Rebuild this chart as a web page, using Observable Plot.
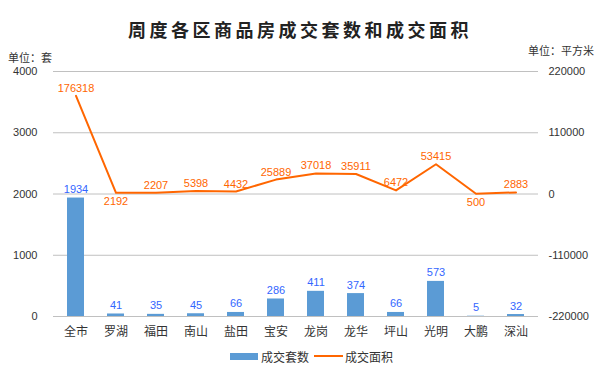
<!DOCTYPE html>
<html>
<head>
<meta charset="utf-8">
<script src="https://cdn.jsdelivr.net/npm/d3@7"></script>
<script src="https://cdn.jsdelivr.net/npm/@observablehq/plot@0.6"></script>
<style>
  html, body { margin: 0; padding: 0; background: #fff; }
  #wrap { position: relative; width: 600px; height: 371px; overflow: hidden; font-family: "Noto Sans CJK SC", sans-serif; }
  #wrap svg { position: absolute; left: 0; top: 0; }
  .ov { position: absolute; white-space: nowrap; color: #333; }
  #title { left: 0; width: 600px; top: 16px; text-align: center; font-size: 18px; font-weight: bold; letter-spacing: 3.5px; color: #222; }
  #uL { left: 8px; top: 51px; font-size: 11px; line-height: 12px; }
  #uR { right: 6px; top: 44px; font-size: 11px; line-height: 12px; }
  #legend { left: 230px; top: 348px; font-size: 12px; display: flex; align-items: center; color: #333; }
  .sw { display: inline-block; width: 28px; height: 7px; background: #5B9BD5; margin-right: 3px; }
  .ln { display: inline-block; width: 29px; height: 2px; background: #FF6600; margin: 0 2px 2px 5px; }
</style>
</head>
<body>
<div id="wrap">
  <div id="title" class="ov">周度各区商品房成交套数和成交面积</div>
  <div id="uL" class="ov">单位：套</div>
  <div id="uR" class="ov">单位：平方米</div>
  <div id="legend" class="ov"><span class="sw"></span><span>成交套数</span><span class="ln"></span><span>成交面积</span></div>
</div>
<script>
const categories = ["全市","罗湖","福田","南山","盐田","宝安","龙岗","龙华","坪山","光明","大鹏","深汕"];
const units = [1934,41,35,45,66,286,411,374,66,573,5,32];
const area = [176318,2192,2207,5398,4432,25889,37018,35911,6472,53415,500,2883];
const areaLabelBelow = ["罗湖","大鹏"];
const leftTicks = [0,1000,2000,3000,4000];

// right axis: -220000..220000 mapped onto left 0..4000
const toLeft = v => (v + 220000) / 110;
const fromLeft = d => d * 110 - 220000;

const data = categories.map((c, i) => ({cat: c, units: units[i], area: area[i], areaY: toLeft(area[i])}));
const above = data.filter(d => !areaLabelBelow.includes(d.cat));
const below = data.filter(d => areaLabelBelow.includes(d.cat));

const tickFont = "Liberation Sans, Arial, sans-serif";

const chart = Plot.plot({
  width: 600,
  height: 371,
  marginTop: 71,
  marginBottom: 55,
  marginLeft: 53,
  marginRight: 62,
  style: {fontFamily: "Noto Sans CJK SC, sans-serif", background: "transparent", overflow: "visible"},
  x: {domain: categories, paddingInner: 0.58, paddingOuter: 0.29, label: null},
  y: {domain: [0, 4000], label: null},
  marks: [
    Plot.ruleY(leftTicks, {stroke: "#c0c0c0", strokeWidth: 1}),
    Plot.barY(data, {x: "cat", y: "units", fill: "#5B9BD5"}),
    Plot.text(data, {x: "cat", y: "units", text: d => String(d.units), lineAnchor: "bottom", dy: -5, fill: "#3366FF", fontSize: 11, fontFamily: tickFont}),
    Plot.line(data, {x: "cat", y: "areaY", stroke: "#FF6600", strokeWidth: 2}),
    Plot.text(above, {x: "cat", y: "areaY", text: d => String(d.area), lineAnchor: "bottom", dy: -4, fill: "#FF6600", fontSize: 11, fontFamily: tickFont}),
    Plot.text(below, {x: "cat", y: "areaY", text: d => String(d.area), lineAnchor: "top", dy: 4, fill: "#FF6600", fontSize: 11, fontFamily: tickFont}),
    Plot.axisX({tickSize: 0, tickPadding: 11, fontSize: 12, fill: "#333", label: null}),
    Plot.axisY({anchor: "left", ticks: leftTicks, tickFormat: d => String(d), tickSize: 0, tickPadding: 16, fontSize: 11, fill: "#333", fontFamily: tickFont, label: null}),
    Plot.axisY({anchor: "right", ticks: leftTicks, tickFormat: d => String(fromLeft(d)), tickSize: 0, tickPadding: 10, fontSize: 11, fill: "#333", fontFamily: tickFont, label: null})
  ]
});
document.getElementById("wrap").prepend(chart);
</script>
</body>
</html>
